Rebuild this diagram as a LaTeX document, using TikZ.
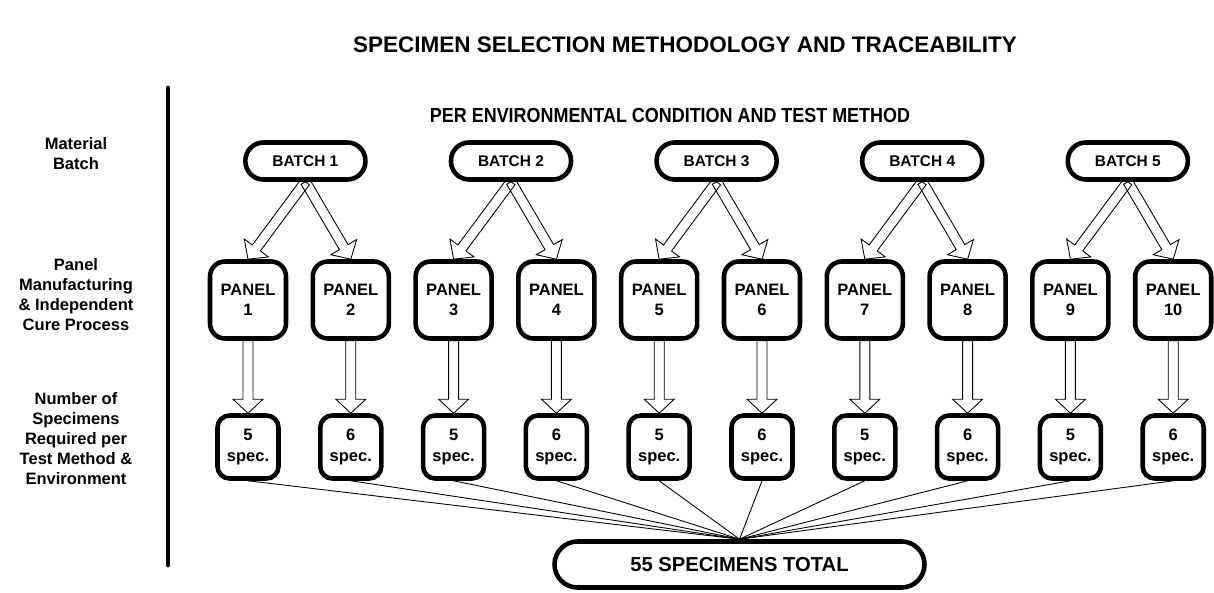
\documentclass[tikz,border=0pt]{standalone}
\usepackage{fontspec}
\setmainfont{Liberation Sans}
\newfontfamily\narrowfont[FakeStretch=0.88]{Liberation Sans}
\usetikzlibrary{calc}

% hollow block arrow from #1 to #2
\newcommand{\blockarrow}[2]{%
  \draw[blockarr] let \p1=($(#2)-(#1)$), \n1={atan2(\y1,\x1)},
      \n2={\n1+90}, \n3={\n1-90}, \n4={\n1+180} in
    ($(#1)+(\n2:1mm)$) -- ($(#2)+(\n4:2.8mm)+(\n2:1mm)$)
    -- ($(#2)+(\n4:2.8mm)+(\n2:3mm)$) -- (#2)
    -- ($(#2)+(\n4:2.8mm)+(\n3:3mm)$) -- ($(#2)+(\n4:2.8mm)+(\n3:1mm)$)
    -- ($(#1)+(\n3:1mm)$) -- cycle;}

\begin{document}
\begin{tikzpicture}[x=0.2mm, y=-0.2mm,
    batch/.style={draw, line width=2.6pt, rounded corners=3.6mm, fill=white,
      minimum width=24mm, minimum height=7.4mm, inner sep=0pt,
      font=\bfseries\fontsize{8.8}{10}\selectfont},
    panel/.style={draw, line width=2.6pt, rounded corners=3mm, fill=white,
      minimum width=15.2mm, minimum height=15.4mm, inner sep=0pt, align=center,
      font=\bfseries\fontsize{9.4}{11.4}\selectfont},
    spec/.style={panel, rounded corners=2.4mm, minimum width=12.2mm, minimum height=12.6mm},
    total/.style={batch, rounded corners=4.6mm, minimum width=74mm, minimum height=9.2mm,
      font=\bfseries\fontsize{11.5}{13}\selectfont},
    rowlabel/.style={align=center, font=\bfseries\fontsize{9.4}{11.4}\selectfont},
    blockarr/.style={draw, line width=0.5pt, line join=miter},
    fanline/.style={line width=0.5pt}
]
\useasboundingbox (0,0) rectangle (1214,593);

% Titles
\node[font=\bfseries\fontsize{12.8}{15}\selectfont] (title) at (685,45)
  {SPECIMEN SELECTION METHODOLOGY AND TRACEABILITY};
\node[font=\narrowfont\bfseries\fontsize{11.6}{14}\selectfont] (subtitle) at (670,115)
  {PER ENVIRONMENTAL CONDITION AND TEST METHOD};

% Row labels
\node[rowlabel] (lbatch) at (76,154) {Material\\Batch};
\node[rowlabel] (lpanel) at (76,295) {Panel\\Manufacturing\\\& Independent\\Cure Process};
\node[rowlabel] (lspec) at (76,439) {Number of\\Specimens\\Required per\\Test Method \&\\Environment};
\draw[line width=2.8pt, line cap=round] (168,88) -- (168,565);

% Panels and specimens
\foreach \i in {1,...,10} {
  \pgfmathsetmacro{\xp}{248+(\i-1)*102.8}
  \pgfmathtruncatemacro{\ns}{isodd(\i) ? 5 : 6}
  \node[panel] (p\i) at (\xp,300) {PANEL\\\i};
  \node[spec] (s\i) at (\xp,447) {\strut\ns\\spec.\strut};
}

% Batches
\foreach \k in {1,...,5} {
  \pgfmathsetmacro{\xb}{248+(2*\k-1.5)*102.8+6}
  \node[batch] (b\k) at (\xb,161) {BATCH \k};
}

% Total
\node[total] (total) at (739.5,564.5) {55 SPECIMENS TOTAL};

% Arrows
\foreach \k [evaluate=\k as \ia using int(2*\k-1), evaluate=\k as \ib using int(2*\k)] in {1,...,5} {
  \blockarrow{b\k.south}{p\ia.north}
  \blockarrow{b\k.south}{p\ib.north}
}
\foreach \i in {1,...,10} {
  \blockarrow{p\i.south}{s\i.north}
  \draw[fanline] (s\i.south) -- (total.north);
}

\end{tikzpicture}
\end{document}
